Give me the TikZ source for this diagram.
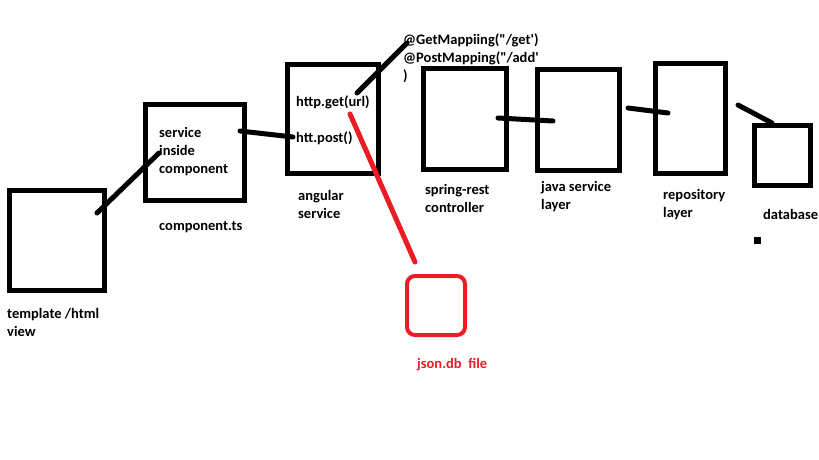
\documentclass[tikz,border=0pt]{standalone}
\usepackage{fontspec}
\setmainfont{Carlito}[Ligatures=TeXOff]

\definecolor{paintred}{RGB}{237,28,36}

\begin{document}
\begin{tikzpicture}[x=1pt, y=-1pt,
    box/.style={draw, line width=5pt, inner sep=0pt},
    wire/.style={line width=5pt, line cap=round},
    lbl/.style={anchor=west, inner sep=0pt, align=left, font=\fontsize{14.5}{18}\selectfont\bfseries}]
    \useasboundingbox (0, 0) rectangle (819, 460);

    \node[box, minimum width=95pt, minimum height=100pt] (view) at (57, 240.5) {};
    \node[box, minimum width=99pt, minimum height=96pt] (comp) at (195, 152.5) {};
    \node[box, minimum width=91pt, minimum height=109pt] (ngsvc) at (333, 119) {};
    \node[box, minimum width=83pt, minimum height=101pt] (ctrl) at (465, 119) {};
    \node[box, minimum width=82pt, minimum height=101pt] (javasvc) at (578.5, 120) {};
    \node[box, minimum width=70pt, minimum height=110pt] (repo) at (690.5, 118.5) {};
    \node[box, minimum width=56pt, minimum height=60pt] (db) at (782.5, 155.5) {};
    \node[draw=paintred, line width=4pt, rounded corners=8pt, inner sep=0pt,
        minimum width=58pt, minimum height=59pt] (json) at (436, 305.5) {};
    \node[fill, inner sep=0pt, minimum size=7pt] (dot) at (757, 240.5) {};

    \node[lbl] (compText) at (159, 152) {service\\inside\\component};
    \node[lbl] (compLbl) at (159, 227) {component.ts};
    \node[lbl] (viewLbl) at (7, 322) {template /html\\view};
    \node[lbl] (getText) at (296, 102) {http.get(url)};
    \node[lbl] (postText) at (296, 138) {htt.post()};
    \node[lbl] (mapText) at (403, 58) {@GetMappiing("/get')\\@PostMapping("/add'\\)};
    \node[lbl] (ngLbl) at (298, 204) {angular\\service};
    \node[lbl] (ctrlLbl) at (425, 198) {spring-rest\\controller};
    \node[lbl] (javaLbl) at (541, 197) {java service\\layer};
    \node[lbl] (repoLbl) at (663, 205) {repository\\layer};
    \node[lbl] (dbLbl) at (763, 214) {database};
    \node[lbl, text=paintred] (jsonLbl) at (417, 365) {json.db\ \ file};

    \coordinate (viewEnd) at (97, 213);
    \coordinate (compEnd) at (159, 153);
    \coordinate (compOut) at (240, 131);
    \coordinate (postEnd) at (293, 137);
    \coordinate (getEnd) at (357, 93);
    \coordinate (mapEnd) at (407, 43);
    \coordinate (getRed) at (350, 114);
    \coordinate (jsonEnd) at (415, 262);
    \coordinate (ctrlEnd) at (498, 118);
    \coordinate (javaIn) at (553, 121);
    \coordinate (javaOut) at (628, 108);
    \coordinate (repoIn) at (668, 113);
    \coordinate (repoOut) at (738, 105);
    \coordinate (dbIn) at (772, 123);

    \draw[wire] (viewEnd) -- (compEnd);
    \draw[wire] (compOut) -- (postEnd);
    \draw[wire] (getEnd) -- (mapEnd);
    \draw[wire, paintred] (getRed) -- (jsonEnd);
    \draw[wire] (ctrlEnd) -- (javaIn);
    \draw[wire] (javaOut) -- (repoIn);
    \draw[wire] (repoOut) -- (dbIn);
\end{tikzpicture}
\end{document}
